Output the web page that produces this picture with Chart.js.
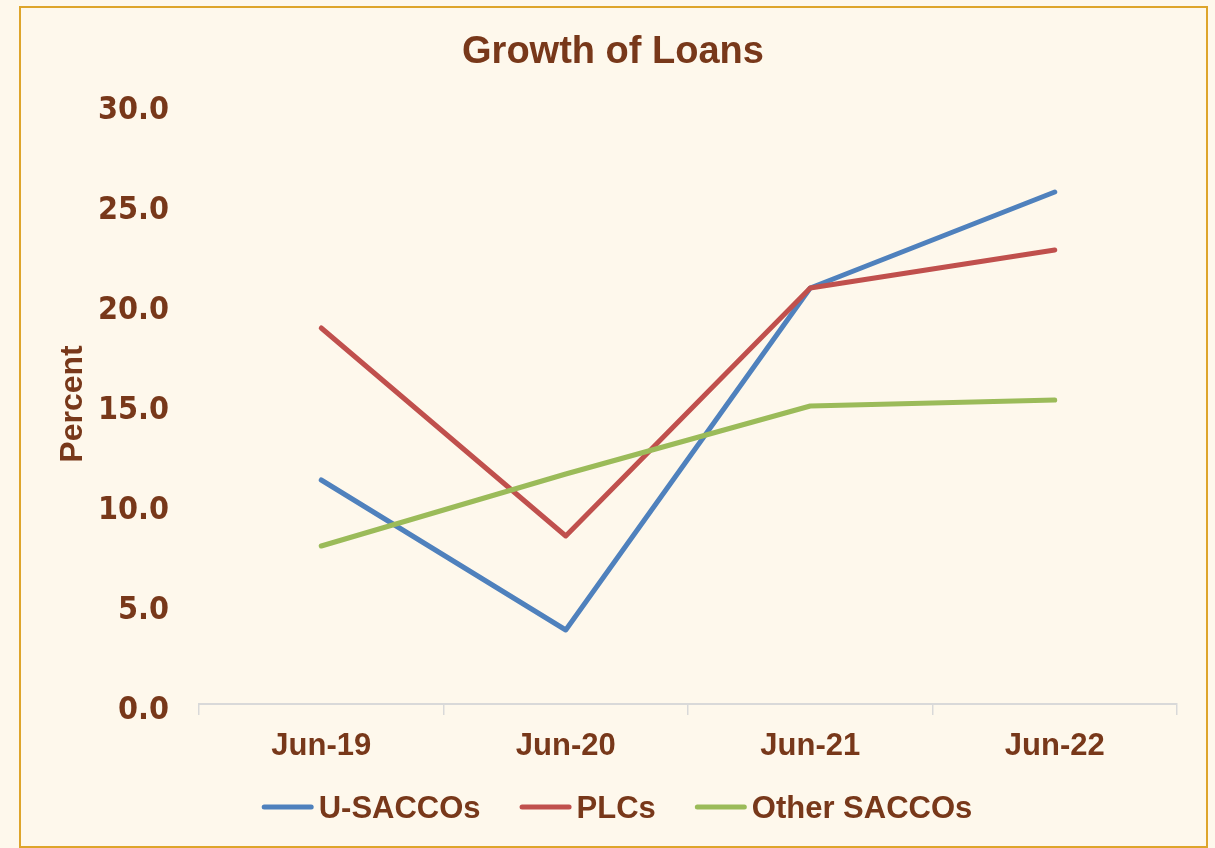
<!DOCTYPE html>
<html>
<head>
<meta charset="utf-8">
<script src="https://cdn.jsdelivr.net/npm/chart.js@4.4.1/dist/chart.umd.min.js"></script>
<style>
  html, body { margin: 0; padding: 0; background: #FEF8EC; }
  canvas { display: block; }
</style>
</head>
<body>
<canvas id="c" width="1215" height="848"></canvas>
<script>
// ---- data ----
const categories = ['Jun-19', 'Jun-20', 'Jun-21', 'Jun-22'];
const uSaccos = [11.2, 3.7, 20.8, 25.6];
const plcs = [18.8, 8.4, 20.8, 22.7];
const otherSaccos = [7.9, 11.5, 14.9, 15.2];
const seriesNames = ['U-SACCOs', 'PLCs', 'Other SACCOs'];
const yTicks = [0, 5, 10, 15, 20, 25, 30];

const BROWN = '#78381A';
const LABEL_FONT = '"Liberation Sans", Arial, sans-serif';
const NUM_FONT = '"DejaVu Sans Condensed", "DejaVu Sans", sans-serif';

const framePlugin = {
  id: 'frame',
  beforeDraw(chart) {
    const ctx = chart.ctx;
    ctx.save();
    ctx.fillStyle = '#FEF8EC';
    ctx.fillRect(0, 0, chart.width, chart.height);
    ctx.strokeStyle = '#DEA52B';
    ctx.lineWidth = 2;
    ctx.strokeRect(20, 7, 1187, 840);
    ctx.restore();
  }
};

const legendPlugin = {
  id: 'customLegend',
  afterDraw(chart) {
    const ctx = chart.ctx;
    ctx.save();
    ctx.font = 'bold 31px ' + LABEL_FONT;
    const sample = 52, gap = 5, spacing = 39;
    const items = chart.data.datasets.map(ds => ({ text: ds.label, color: ds.borderColor, w: ctx.measureText(ds.label).width }));
    let total = items.reduce((s, it) => s + sample + gap + it.w, 0) + spacing * (items.length - 1);
    let x = 617 - total / 2;
    const y = 807;
    items.forEach(it => {
      ctx.strokeStyle = it.color;
      ctx.lineWidth = 5;
      ctx.lineCap = 'round';
      ctx.beginPath();
      ctx.moveTo(x + 2.5, y);
      ctx.lineTo(x + sample - 2.5, y);
      ctx.stroke();
      ctx.fillStyle = BROWN;
      ctx.textBaseline = 'alphabetic';
      ctx.textAlign = 'left';
      ctx.fillText(it.text, x + sample + gap, y + 11);
      x += sample + gap + it.w + spacing;
    });
    ctx.restore();
  }
};

const lineStyle = (color) => ({
  borderColor: color,
  backgroundColor: color,
  borderWidth: 5,
  pointRadius: 0,
  pointHoverRadius: 0,
  tension: 0,
  borderCapStyle: 'round',
  borderJoinStyle: 'round',
  fill: false
});

new Chart(document.getElementById('c'), {
  type: 'line',
  data: {
    labels: categories,
    datasets: [
      Object.assign({ label: seriesNames[0], data: uSaccos, order: 2 }, lineStyle('#4F81BD')),
      Object.assign({ label: seriesNames[1], data: plcs, order: 1 }, lineStyle('#C0504D')),
      Object.assign({ label: seriesNames[2], data: otherSaccos, order: 0 }, lineStyle('#9BBB59'))
    ]
  },
  options: {
    responsive: false,
    animation: false,
    events: [],
    layout: { padding: { left: 49, right: 38, top: 0, bottom: 74 } },
    plugins: {
      legend: { display: false },
      tooltip: { enabled: false },
      title: {
        display: true,
        text: 'Growth of Loans',
        color: BROWN,
        font: { family: LABEL_FONT, size: 38, weight: 'bold' },
        padding: { top: 30, bottom: 28.4 }
      }
    },
    scales: {
      x: {
        type: 'category',
        offset: true,
        grid: {
          display: true,
          drawOnChartArea: false,
          drawTicks: true,
          tickLength: 11,
          color: '#D9D9D9',
          lineWidth: 1.5,
          offset: true
        },
        border: { display: true, color: '#D9D9D9', width: 2 },
        ticks: {
          color: BROWN,
          padding: 13,
          maxRotation: 0,
          font: { family: LABEL_FONT, size: 31, weight: 'bold' }
        },
        afterFit(scale) { scale.height = 70; }
      },
      y: {
        min: 0,
        max: 30,
        afterBuildTicks(scale) { scale.ticks = yTicks.map(v => ({ value: v })); },
        grid: { display: false, drawTicks: false },
        border: { display: false },
        ticks: {
          color: BROWN,
          padding: 30,
          labelOffset: 7,
          font: { family: NUM_FONT, size: 32, weight: 'bold' },
          callback: (v) => Number(v).toFixed(1)
        },
        title: {
          display: true,
          text: 'Percent',
          color: BROWN,
          font: { family: LABEL_FONT, size: 32, weight: 'bold' },
          padding: { top: 4.8, bottom: 0 }
        },
        afterFit(scale) { scale.width = 150; }
      }
    }
  },
  plugins: [framePlugin, legendPlugin]
});
</script>
</body>
</html>
